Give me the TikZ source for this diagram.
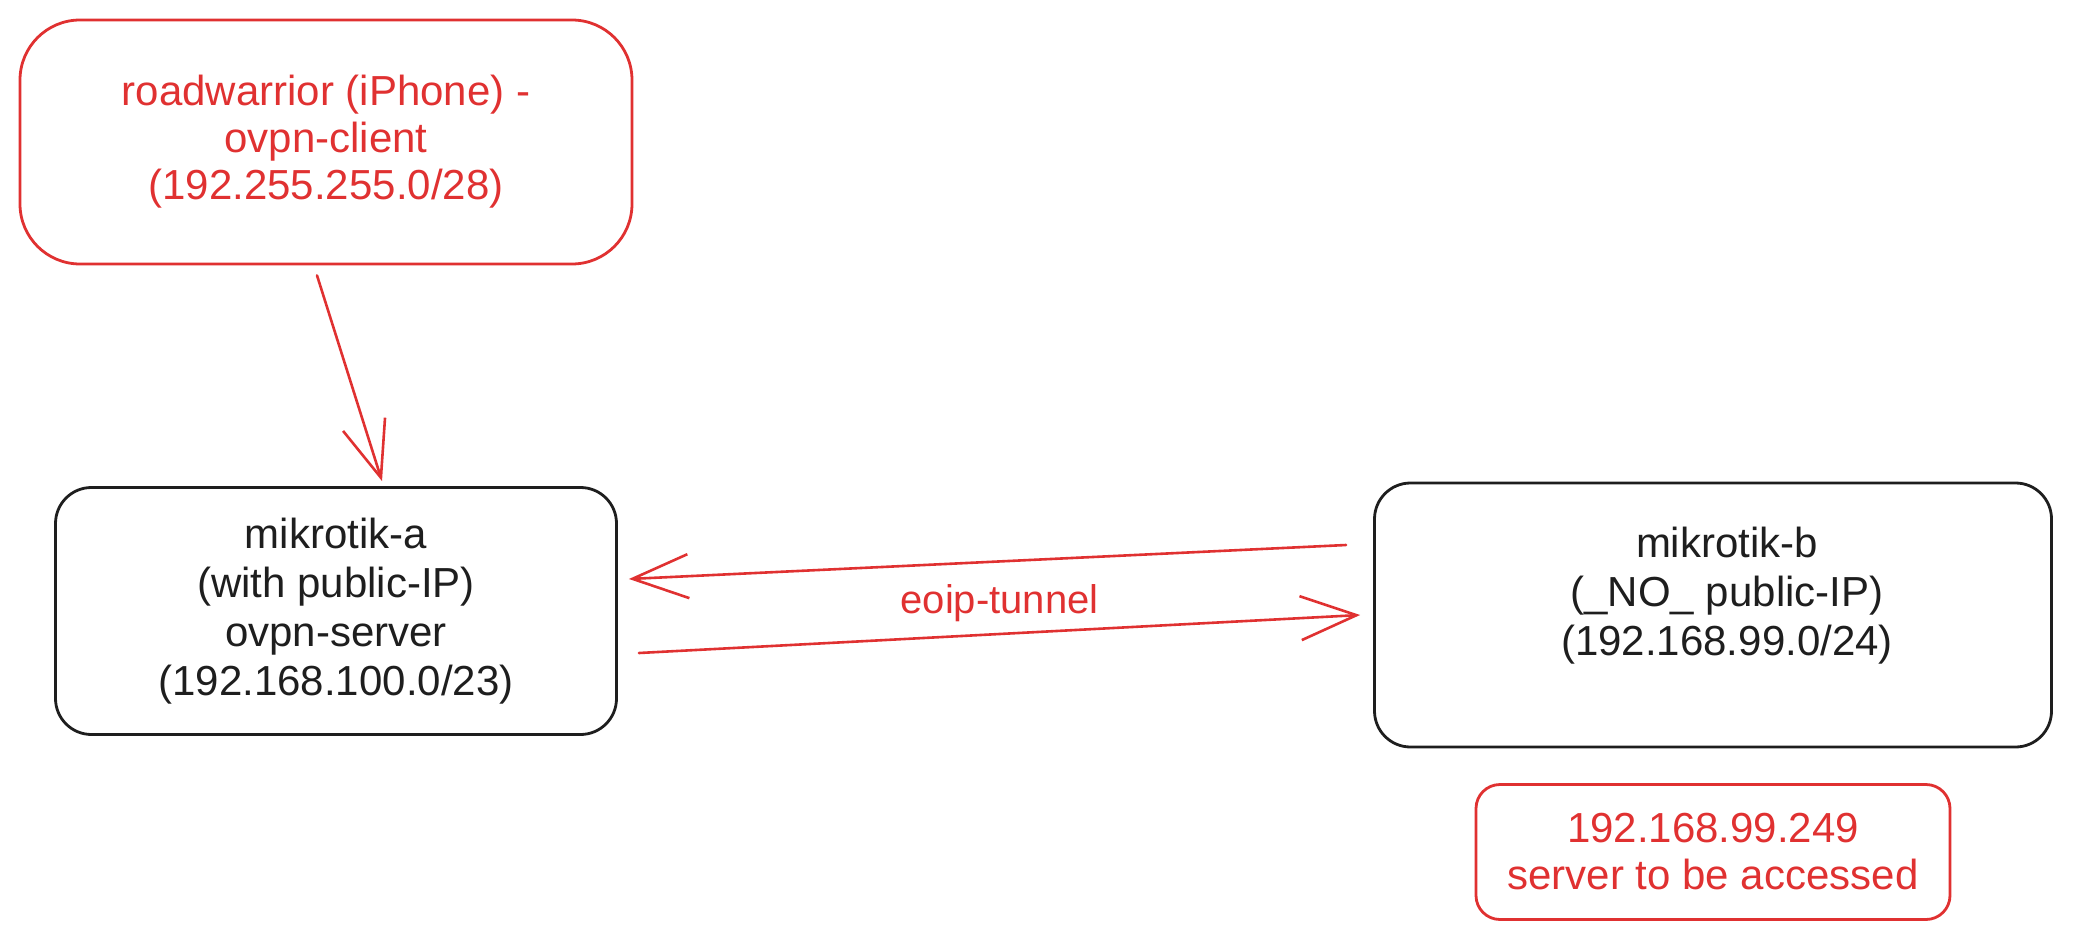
\documentclass[tikz,border=0pt]{standalone}
\usepackage{fontspec}
\setmainfont{Liberation Sans}
\usepackage{xcolor}
\usetikzlibrary{shapes.geometric, arrows, arrows.meta}
\definecolor{sketchred}{HTML}{E03131}
\definecolor{sketchblack}{HTML}{1E1E1E}
\tikzstyle{blockr} = [rectangle, draw=sketchred, rounded corners=22pt, align=center, text=sketchred, line width=1.4pt, font=\fontsize{21}{23.5}\selectfont]
\tikzstyle{blockb} = [rectangle, draw=sketchblack, rounded corners=18pt, align=center, text=sketchblack, line width=1.4pt, font=\fontsize{21}{24.5}\selectfont]
\tikzstyle{blank} = [inner sep=0,outer sep=0, align=center]
\tikzstyle{line} = [draw=sketchred, line width=1.3pt, line cap=round, -{Straight Barb[length=28pt, width=22pt, line width=1.3pt]}]

\begin{document}
\begin{tikzpicture}[x=0.5pt, y=-0.5pt]
\useasboundingbox (0,0) rectangle (2073,942);

\node [blockb, minimum width=280.5pt, minimum height=123.5pt] (A) at (336,611) {mikrotik-a\\(with public-IP)\\ovpn-server\\(192.168.100.0/23)};
\node [blockr, node distance=234.5pt, above of=A, xshift=-5pt, minimum width=306pt, minimum height=122pt, rounded corners=30pt] (RW) {roadwarrior (iPhone) -\\ovpn-client\\(192.255.255.0/28)};
\node [blockb, node distance=688.5pt, right of=A, yshift=-2pt, minimum width=338.5pt, minimum height=132pt] (B) {};
\node [blank, text=sketchblack, font=\fontsize{21}{24.5}\selectfont, xshift=7pt, yshift=9.5pt] (Btext) at (B) {mikrotik-b\\(\_NO\_ public-IP)\\(192.168.99.0/24)};
\node [blockr, node distance=118.5pt, below of=B, minimum width=237pt, minimum height=67.5pt, rounded corners=12pt] (SRV) {192.168.99.249\\server to be accessed};

\path [line] ([xshift=-4.5pt, yshift=-5pt]RW.south) -- ([xshift=23pt, yshift=2.5pt]A.north);
\path [line] ([xshift=-13.5pt, yshift=35pt]B.west) -- ([xshift=5.5pt, yshift=16pt]A.east);
\path [line] ([xshift=10.5pt, yshift=-21pt]A.east) -- node[above, text=sketchred, font=\fontsize{20}{24}\selectfont, yshift=2pt] {eoip-tunnel} ([xshift=-6.5pt]B.west);

\end{tikzpicture}
\end{document}
